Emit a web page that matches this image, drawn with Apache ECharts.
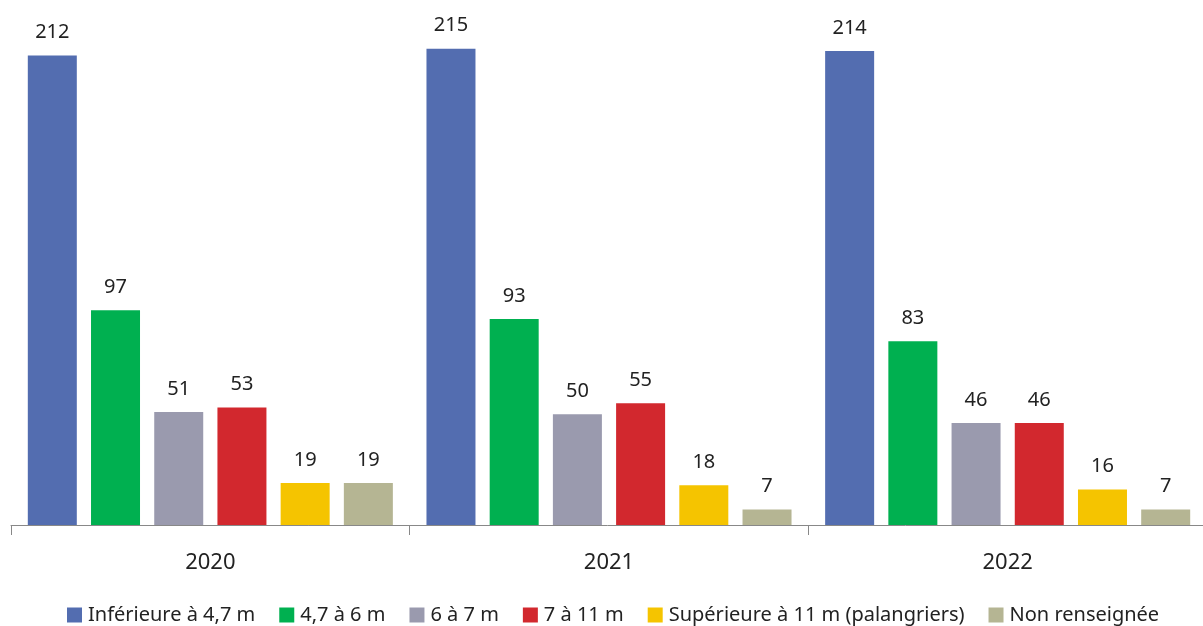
<!DOCTYPE html>
<html>
<head>
<meta charset="utf-8">
<script src="https://cdn.jsdelivr.net/npm/echarts@6/dist/echarts.min.js"></script>
<style>
  html, body { margin: 0; padding: 0; background: #fff; }
  #chart { width: 1203px; height: 626px; }
</style>
</head>
<body>
<div id="chart"></div>
<script>
const years = ['2020', '2021', '2022'];
const seriesNames = ['Inférieure à 4,7 m', '4,7 à 6 m', '6 à 7 m', '7 à 11 m', 'Supérieure à 11 m (palangriers)', 'Non renseignée'];
const colors = ['#536db0', '#00b050', '#9a9aae', '#d2282e', '#f5c400', '#b5b593'];
const inf47 = [212, 215, 214];
const s47to6 = [97, 93, 83];
const s6to7 = [51, 50, 46];
const s7to11 = [53, 55, 46];
const sup11 = [19, 18, 16];
const nonRens = [19, 7, 7];
const values = [inf47, s47to6, s6to7, s7to11, sup11, nonRens];

const font = '"Noto Sans", "Open Sans", sans-serif';
const chart = echarts.init(document.getElementById('chart'));

chart.setOption({
  animation: false,
  textStyle: { fontFamily: font },
  grid: { left: 11, width: 1196, top: 0, bottom: 101, containLabel: false, outerBoundsMode: 'none' },
  legend: {
    bottom: -4,
    left: 62,
    itemWidth: 15,
    itemHeight: 15,
    itemGap: 24,
    icon: 'rect',
    textStyle: { fontSize: 20, color: '#222', fontFamily: font, padding: [0, 0, 0, 1] }
  },
  xAxis: {
    type: 'category',
    data: years,
    axisLine: { lineStyle: { color: '#888' } },
    axisTick: { show: true, length: 10, lineStyle: { color: '#888' } },
    axisLabel: { fontSize: 22, color: '#222', margin: 27, fontFamily: font }
  },
  yAxis: {
    type: 'value',
    min: 0,
    max: 237,
    show: false,
    splitLine: { show: false }
  },
  series: seriesNames.map((name, i) => ({
    name: name,
    type: 'bar',
    data: values[i],
    barWidth: 49,
    barGap: '29%',
    itemStyle: { color: colors[i] },
    label: {
      show: true,
      position: 'top',
      distance: 13,
      fontSize: 20,
      color: '#222',
      fontFamily: font
    }
  }))
});
</script>
</body>
</html>
